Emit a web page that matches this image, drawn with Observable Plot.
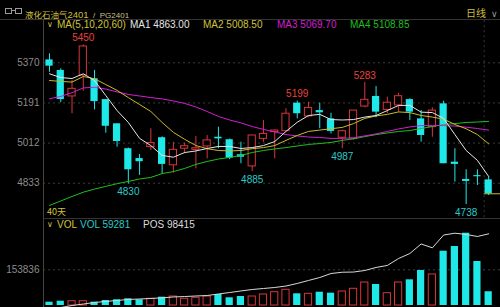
<!DOCTYPE html>
<html><head><meta charset="utf-8">
<script src="https://cdn.jsdelivr.net/npm/d3@7"></script>
<script src="https://cdn.jsdelivr.net/npm/@observablehq/plot@0.6"></script>
<style>
html,body{margin:0;padding:0;background:#000;}
#wrap{position:relative;width:500px;height:307px;background:#000;overflow:hidden;font-family:"Liberation Sans","DejaVu Sans",sans-serif;}
.t{position:absolute;white-space:nowrap;line-height:1;}
svg{display:block;}
</style></head><body><div id="wrap"></div>
<script>
// ---- data (PG2401, daily, last 40 sessions) ----
const opens  = [5383,5336,5220,5313,5299,5206,5098,4987,4943,4994,5036,4913,4987,4982,4997,5038,5027,4960,4908,5031,5061,5065,5190,5131,5157,5120,5036,5031,5175,5220,5160,5180,5206,5120,5083,5187,4927,4850,4867,4848];
const highs  = [5410,5343,5291,5450,5336,5206,5098,4990,4961,5076,5040,5016,5012,5041,5046,5083,5030,5016,5046,5113,5070,5165,5199,5194,5190,5145,5070,5157,5283,5264,5217,5234,5210,5157,5169,5199,4987,4893,4893,4860];
const lows   = [5328,5192,5143,5243,5160,5056,4994,4830,4868,4979,4872,4878,4964,4897,4942,4987,4938,4920,4885,5016,4942,5065,5120,5125,5076,5053,4987,5025,5169,5125,5143,5150,5113,5016,5038,4920,4838,4738,4823,4778];
const closes = [5355,5206,5254,5443,5197,5087,5019,4893,4929,5012,4917,4982,4998,4989,5024,5031,4945,4949,5046,5053,5068,5143,5143,5169,5147,5064,5065,5157,5205,5150,5192,5221,5150,5046,5157,4920,4917,4841,4862,4786];
const ma5  = [5321,5304,5300,5321,5291,5224,5157,5104,5033,5001,4957,4949,4970,4977,4988,4997,4997,4988,4992,5001,5019,5064,5105,5135,5140,5117,5115,5117,5128,5135,5157,5180,5180,5150,5148,5122,5050,4979,4935,4863];
const ma10 = [5291,5287,5284,5309,5299,5273,5247,5215,5184,5153,5104,5060,5029,5001,4987,4979,4977,4979,4987,4992,5001,5024,5046,5064,5070,5076,5082,5099,5122,5133,5140,5151,5148,5135,5128,5119,5095,5076,5050,5008.5];
const ma20 = [5210,5220,5237,5258,5261,5253,5240,5229,5222,5215,5209,5200,5189,5173,5153,5131,5115,5102,5086,5073,5062,5050,5044,5039,5037,5033,5033,5036,5044,5053,5064,5075,5084,5090,5090,5090,5088,5083,5077,5069.7];
const ma60 = [4734,4754,4774,4793,4807,4819,4831,4841,4852,4859,4876,4885,4899,4917,4930,4941,4948,4957,4970,4979,4986,4992,4999,5006,5010,5015,5024,5031,5041,5050,5057,5064,5068,5077,5086,5095,5099,5104,5106,5108.85];
const volumes = [14200,18500,18500,18500,14200,21500,24600,28900,24600,28900,35800,38800,28900,33200,38800,47400,33200,38800,38800,47400,57300,67700,50400,50400,57300,53000,60300,72000,99100,90500,53000,99100,110700,150800,133600,234000,254200,311500,189600,59281];
const positions = [15600,17800,20000,21600,23300,24400,25500,26600,27100,27700,28400,29300,29800,30400,30900,32600,34200,35900,37500,38600,39700,41300,44100,47400,50600,55000,56400,56600,58300,61600,63800,71400,76900,87300,83100,97100,99100,97700,95500,98415];
const priceTicks = [5370,5191,5012,4833];
const volTicks = [153836];
const highMarkIdx = [3,22,28];
const lowMarkIdx = [7,18,26,37];
const sessionBreak = [38.6];
const maLegend = [
  {name:"MA1", value:"4863.00"},
  {name:"MA2", value:"5008.50"},
  {name:"MA3", value:"5069.70"},
  {name:"MA4", value:"5108.85"}
];
const lastVol = 59281, lastPos = 98415;

// ---- styling ----
const RED = "#d9363a", CYAN = "#1ee8e8", RED_T = "#e8403f", CYAN_T = "#2ec8c8";
const WHITE = "#e6e6e6", YEL = "#c8bc2a", MAG = "#d21fd2", GRN = "#1fbf1f";
const AXIS = "#8c8c8c", GRID = "#3c3c3c";

const rows = closes.map((c, i) => ({i, open: opens[i], high: highs[i], low: lows[i], close: c,
  ma5: ma5[i], ma10: ma10[i], ma20: ma20[i], ma60: ma60[i], vol: volumes[i], pos: positions[i]}));
const up = d => d.close >= d.open;
const dn = d => d.close < d.open;
const hw = 0.32;
const xDom = [-0.533, 40.05];

const wrap = document.getElementById("wrap");
function place(el, left, top) { el.style.position = "absolute"; el.style.left = left + "px"; el.style.top = top + "px"; wrap.appendChild(el); return el; }
function txt(x, yc, s, color, size = 10, family) {
  const el = document.createElement("div");
  el.className = "t"; el.textContent = s; el.style.color = color; el.style.fontSize = size + "px";
  if (family) el.style.fontFamily = family;
  return place(el, x, yc - size / 2 - 1);
}
function line(x, y, w, h, color) {
  const el = document.createElement("div");
  el.style.width = w + "px"; el.style.height = h + "px"; el.style.background = color;
  return place(el, x, y);
}

// main price plot
const main = Plot.plot({
  width: 500, height: 218,
  marginLeft: 43, marginRight: 0, marginTop: 0, marginBottom: 0,
  style: {background: "transparent", fontFamily: "Liberation Sans, sans-serif", fontSize: "10px"},
  x: {domain: xDom, axis: null},
  y: {domain: [4675.8, 5647.8]},
  marks: [
    Plot.ruleY(priceTicks, {stroke: GRID, strokeDasharray: "2,3"}),
    Plot.ruleX(sessionBreak, {stroke: "#3a3a3a", strokeDasharray: "2,3", y1: 5580, y2: 4675.8}),
    Plot.axisY(priceTicks, {tickSize: 0, tickPadding: 4, tickFormat: d => String(d), fill: AXIS, fontSize: 10, label: null}),
    Plot.ruleX(rows, {filter: up, x: "i", y1: "low", y2: "high", stroke: RED}),
    Plot.ruleX(rows, {filter: dn, x: "i", y1: "low", y2: "high", stroke: CYAN}),
    Plot.rect(rows, {filter: up, x1: d => d.i - hw, x2: d => d.i + hw, y1: "open", y2: "close", fill: "#000", stroke: RED}),
    Plot.rect(rows, {filter: dn, x1: d => d.i - hw, x2: d => d.i + hw, y1: "open", y2: "close", fill: CYAN}),
    Plot.line(rows, {x: "i", y: "ma60", stroke: GRN, strokeWidth: 1}),
    Plot.line(rows, {x: "i", y: "ma20", stroke: MAG, strokeWidth: 1}),
    Plot.line(rows, {x: "i", y: "ma10", stroke: YEL, strokeWidth: 1}),
    Plot.line(rows, {x: "i", y: "ma5", stroke: WHITE, strokeWidth: 1}),
    Plot.ruleY([closes[closes.length - 1]], {x1: sessionBreak[0], x2: xDom[1], stroke: YEL}),
    Plot.text(highMarkIdx.map(i => rows[i]), {x: "i", y: "high", text: d => String(d.high), dy: -7, fill: RED_T, fontSize: 10}),
    Plot.text(lowMarkIdx.map(i => rows[i]), {x: "i", y: "low", text: d => String(d.low), dy: 8, fill: CYAN_T, fontSize: 10})
  ]
});
main.style.position = "absolute"; main.style.left = "0px"; main.style.top = "0px";
wrap.appendChild(main);

// volume plot
const vol = Plot.plot({
  width: 500, height: 89,
  marginLeft: 43, marginRight: 0, marginTop: 0, marginBottom: 0,
  style: {background: "transparent", fontFamily: "Liberation Sans, sans-serif", fontSize: "10px"},
  x: {domain: xDom, axis: null},
  y: {domain: [-8618, 374900]},
  marks: [
    Plot.ruleY(volTicks, {stroke: GRID, strokeDasharray: "2,3"}),
    Plot.axisY(volTicks, {tickSize: 0, tickPadding: 4, tickFormat: d => String(d), fill: AXIS, fontSize: 10, label: null}),
    Plot.rect(rows, {filter: up, x1: d => d.i - hw, x2: d => d.i + hw, y1: 0, y2: "vol", fill: "#000", stroke: RED}),
    Plot.rect(rows, {filter: dn, x1: d => d.i - hw, x2: d => d.i + hw, y1: 0, y2: "vol", fill: CYAN})
  ]
});
vol.style.position = "absolute"; vol.style.left = "0px"; vol.style.top = "218px";
wrap.appendChild(vol);

// open interest line on its own scale, overlaid on the volume panel
const pos = Plot.plot({
  width: 500, height: 89,
  marginLeft: 43, marginRight: 0, marginTop: 0, marginBottom: 0,
  style: {background: "transparent"},
  x: {domain: xDom, axis: null},
  y: {domain: [17812, 115178], axis: null},
  marks: [Plot.line(rows, {x: "i", y: "pos", stroke: "#d8d8d8", strokeWidth: 1, clip: true})]
});
pos.style.position = "absolute"; pos.style.left = "0px"; pos.style.top = "218px";
wrap.appendChild(pos);

// frame lines
line(0, 19, 500, 1, "#333");
line(43, 19, 1, 288, "#444");
line(43, 218, 457, 1, "#333");

// title bar
const icon1 = document.createElement("div");
icon1.style.cssText = "width:5px;height:4px;border:1px solid #9a9a9a;";
place(icon1, 5, 8);
line(12, 10, 3, 1, "#9a9a9a");
const icon2 = document.createElement("div");
icon2.style.cssText = "width:5px;height:4px;border:1px solid #9a9a9a;";
place(icon2, 15, 8);
const title = document.createElement("div");
title.className = "t";
title.style.color = "#cdbd3c";
title.innerHTML = '<span style="font-family:\'Noto Sans CJK SC\';font-size:8.5px">液化石油气</span><span style="font-size:9.5px">2401</span><span style="font-size:8px;color:#c9c08a"> &nbsp;/ &nbsp;PG2401</span>';
place(title, 25, 5);
const dayLbl = document.createElement("div");
dayLbl.className = "t";
dayLbl.style.color = "#cdbd3c";
dayLbl.innerHTML = '<span style="font-family:\'Noto Sans CJK SC\';font-size:10px">日线</span><span style="font-size:9px;color:#9a9a9a"> &nbsp;∨</span>';
place(dayLbl, 466, 4);

// MA legend row
txt(47, 26, "∨", "#c8c040", 8);
txt(57, 26, "MA(5,10,20,60)", "#cfc43a", 10);
const maColors = [WHITE, "#cfc43a", MAG, GRN];
const maX = [130, 203, 277, 350];
maLegend.forEach((m, k) => txt(maX[k], 26, m.name + " " + m.value, maColors[k], 10));

txt(47, 212, "40天", "#cfc43a", 9, "'Noto Sans CJK SC'");

// volume legend row
txt(47, 226, "∨", "#c8c040", 8);
txt(57, 226, "VOL", "#cfc43a", 10);
txt(80, 226, "VOL " + lastVol, CYAN_T, 10);
txt(143, 226, "POS " + lastPos, "#dcdcdc", 10);
</script>
</body></html>
